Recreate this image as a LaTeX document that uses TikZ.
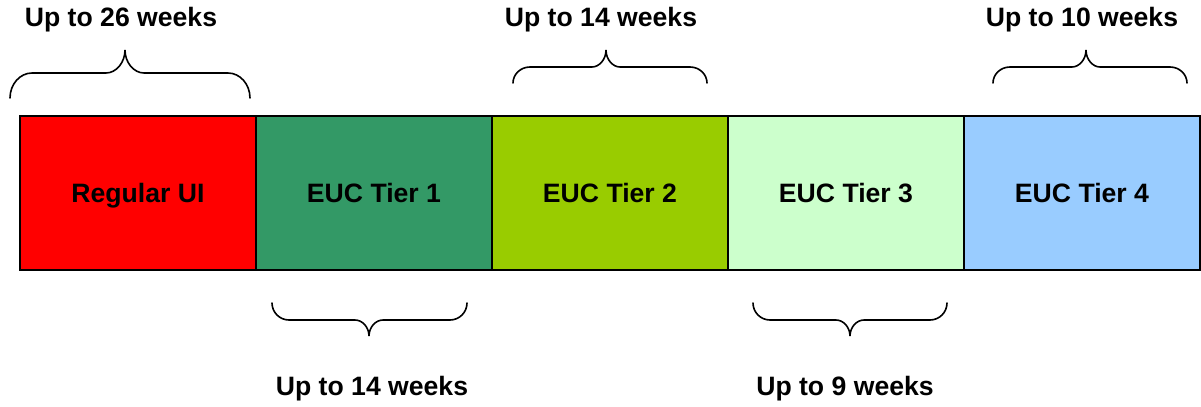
\documentclass[tikz,border=0pt]{standalone}
\usepackage{fontspec}
\setmainfont{Liberation Sans}
\usepackage{tikz}
\usetikzlibrary{positioning}

\definecolor{uired}{HTML}{FF0000}
\definecolor{tierone}{HTML}{339966}
\definecolor{tiertwo}{HTML}{99CC00}
\definecolor{tierthree}{HTML}{CCFFCC}
\definecolor{tierfour}{HTML}{99CCFF}

% brace: left end, right end, tip x, end y, middle y, tip y, corner
\newcommand{\weekbrace}[7]{%
  \draw[brace line] (#1,#4) .. controls (#1,{#4+0.55*(#5-#4)}) and (#1+0.45*#7,#5) .. (#1+#7,#5)
     -- (#3-#7+3,#5) .. controls (#3-0.45*#7+1,#5) and (#3,{#5+0.45*(#6-#5)}) .. (#3,#6)
     .. controls (#3,{#5+0.45*(#6-#5)}) and (#3+0.45*#7-1,#5) .. (#3+#7-3,#5)
     -- (#2-#7,#5) .. controls (#2-0.45*#7,#5) and (#2,{#4+0.55*(#5-#4)}) .. (#2,#4);}

\begin{document}
\begin{tikzpicture}[x=0.5pt,y=-0.5pt,
    stage/.style={draw=black,line width=1.2pt,minimum width=118pt,
      minimum height=77pt,inner sep=0pt,text height=2.2ex,text depth=0.45ex,
      font=\fontsize{13.3}{16}\selectfont\bfseries},
    week/.style={font=\fontsize{13.3}{16}\selectfont\bfseries,inner sep=1pt},
    brace line/.style={line width=0.8pt,line cap=round}]
    \useasboundingbox (0,0) rectangle (1201,407);
    \foreach \i/\col/\lab in {0/uired/Regular UI,1/tierone/EUC Tier 1,
      2/tiertwo/EUC Tier 2,3/tierthree/EUC Tier 3,4/tierfour/EUC Tier 4}
    \node[stage,fill=\col] (tier\i) at (138+236*\i,193) {\lab};
    % braces above
    \weekbrace{10}{250}{125}{98}{73}{50}{22}
    \weekbrace{513}{707}{606}{83}{67}{50}{17}
    \weekbrace{993}{1187}{1086}{83}{67}{50}{17}
    % braces below
    \weekbrace{272}{467}{369}{303}{320}{336}{17}
    \weekbrace{753}{947}{850}{303}{320}{336}{17}
    \node[at={(121,20)},week] (up26) {Up to 26 weeks};
    \node[at={(601,20)},week] (up14a) {Up to 14 weeks};
    \node[at={(1082,20)},week] (up10) {Up to 10 weeks};
    \node[at={(372,389)},week] (up14b) {Up to 14 weeks};
    \node[at={(845,389)},week] (up9) {Up to 9 weeks};
\end{tikzpicture}
\end{document}
